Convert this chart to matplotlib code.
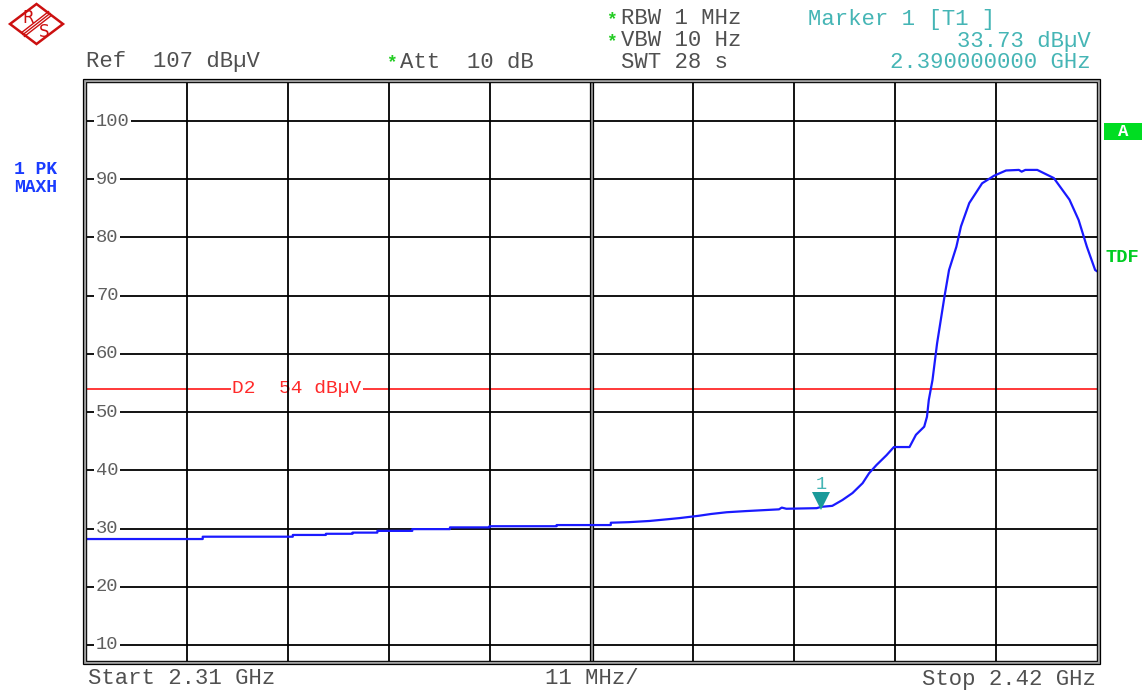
import matplotlib
matplotlib.use("Agg")
import matplotlib.pyplot as plt
import matplotlib.transforms as mtrans
from matplotlib.patches import Polygon, Rectangle
from matplotlib.lines import Line2D

# ---------------- data ----------------
freq_mhz = [2310.0, 2322.7, 2322.7, 2332.5, 2332.5, 2336.1, 2336.1, 2339.0, 2339.0,
            2341.7, 2341.7, 2345.5, 2345.5, 2349.6, 2349.6, 2353.9, 2353.9, 2361.2,
            2361.2, 2367.1, 2367.1, 2369.1, 2371.3, 2373.3, 2374.6, 2376.7, 2378.0,
            2379.7, 2381.8, 2385.4, 2385.7, 2386.2, 2389.5, 2390.0, 2391.2, 2392.3,
            2393.4, 2394.5, 2395.2, 2396.0, 2397.1, 2397.9, 2399.6, 2400.3, 2401.2,
            2401.5, 2401.7, 2402.1, 2402.6, 2403.4, 2403.9, 2404.7, 2405.2, 2406.1,
            2407.5, 2408.8, 2410.1, 2411.5, 2411.8, 2412.2, 2413.5, 2415.3, 2417.0,
            2418.0, 2418.9, 2419.8, 2420.0]
level_dbuv = [28.2, 28.2, 28.6, 28.6, 28.9, 28.9, 29.1, 29.1, 29.3, 29.3, 29.6, 29.6,
              29.9, 29.9, 30.2, 30.2, 30.4, 30.4, 30.6, 30.6, 31.0, 31.1, 31.3, 31.6,
              31.8, 32.2, 32.5, 32.8, 33.0, 33.3, 33.6, 33.4, 33.5, 33.73, 33.9, 34.9,
              36.1, 37.8, 39.5, 40.9, 42.6, 44.0, 44.0, 46.1, 47.5, 49.2, 52.1, 55.5,
              61.8, 69.8, 74.4, 78.4, 81.9, 85.9, 89.3, 90.6, 91.5, 91.6, 91.3, 91.6,
              91.6, 90.2, 86.5, 83.0, 78.4, 74.4, 74.2]

start_mhz = 2310.0
stop_mhz = 2420.0
div_mhz = 11.0
y_top = 106.7
y_bottom = 7.25
ytick_values = [100, 90, 80, 70, 60, 50, 40, 30, 20, 10]
ytick_labels = ["100", "90", "80", "70", "60", "50", "40", "30", "20", "10"]
limit_level = 54
limit_label = "D2  54 dB\u00b5V"
marker_freq = 2390.0
marker_level = 33.73

W, H = 1143, 690
MONO = "Liberation Mono"
GRAY = "#505050"
CYAN = "#45b5b5"
GREEN = "#22cc22"
BLUE = "#1a1aff"
RED = "#ff2a2a"
LOGO = "#cc1010"

fig = plt.figure(figsize=(W / 100, H / 100), dpi=100)
fig.patch.set_facecolor("white")

L, R, T, B = 86, 1097, 82, 661
ax = fig.add_axes([L / W, 1 - B / H, (R - L) / W, (B - T) / H])
ax.set_xlim(start_mhz, stop_mhz)
ax.set_ylim(y_bottom, y_top)
ax.set_xticks([])
ax.set_yticks([])
for s in ax.spines.values():
    s.set_linewidth(1.0)
    s.set_color("black")
    s.set_zorder(6)

# horizontal grid lines (broken by labels via white bbox)
for v in ytick_values:
    ax.axhline(v, color="black", lw=1.3, zorder=1)
x_lab = start_mhz + (96 - L) / (R - L) * (stop_mhz - start_mhz)
for v, t in zip(ytick_values, ytick_labels):
    ax.text(x_lab, v, t, fontsize=13.5, family=MONO, color="#5f5f5f",
            ha="left", va="center", zorder=2,
            bbox=dict(facecolor="white", edgecolor="none", pad=1.2))

# vertical grid lines (centre line drawn double)
k = 1
f = start_mhz + div_mhz
while f < stop_mhz - 1e-6:
    if k == 5:
        ax.axvline(f, color="#999999", lw=2.2, zorder=3)
        for dx in (-1.6, 1.6):
            tr = mtrans.offset_copy(ax.transData, fig=fig, x=dx, y=0, units="dots")
            ax.plot([f, f], [y_bottom, y_top], color="black", lw=0.9, transform=tr,
                    zorder=3)
    else:
        ax.axvline(f, color="black", lw=1.3, zorder=3)
    f += div_mhz
    k += 1

# display line D2
ax.axhline(limit_level, color=RED, lw=1.3, zorder=1.5)
x_d2 = start_mhz + (232 - L) / (R - L) * (stop_mhz - start_mhz)
ax.text(x_d2, limit_level, limit_label, fontsize=14, family=MONO, color=RED,
        ha="left", va="center", zorder=2,
        bbox=dict(facecolor="white", edgecolor="none", pad=1.0))

# trace
ax.plot(freq_mhz, level_dbuv, color=BLUE, lw=1.6, zorder=5, solid_joinstyle="round")

# marker
mk_tr = mtrans.offset_copy(ax.transData, fig=fig, x=0, y=5.5, units="dots")
ax.plot([marker_freq], [marker_level], marker="v", markersize=12.5, color="#1a9a9a",
        markeredgewidth=0, transform=mk_tr, zorder=7, clip_on=False)
lbl_tr = mtrans.offset_copy(ax.transData, fig=fig, x=0, y=22, units="dots")
ax.text(marker_freq, marker_level, "1", transform=lbl_tr, fontsize=13.5, family=MONO,
        color=CYAN, ha="center", va="center", zorder=7)

# ---------------- overlay in pixel coordinates ----------------
ov = fig.add_axes([0, 0, 1, 1], facecolor="none")
ov.set_xlim(0, W)
ov.set_ylim(H, 0)
ov.axis("off")

# double frame: black outer, gray band
ov.add_patch(Rectangle((L - 1.5, T - 1.5), (R - L) + 3, (B - T) + 3, fill=False,
                       edgecolor="#a0a0a0", lw=1.6, zorder=1))
ov.add_patch(Rectangle((L - 3, T - 3), (R - L) + 6, (B - T) + 6, fill=False,
                       edgecolor="black", lw=0.9, zorder=1))

def txt(x, y, s, color=GRAY, size=16, ha="left", weight="normal", family=MONO):
    ov.text(x, y, s, fontsize=size, family=family, color=color, ha=ha, va="center",
            fontweight=weight)

# header
txt(86, 62, "Ref  107 dB\u00b5V")
txt(392, 63, "*", color=GREEN, size=13, ha="center", weight="bold")
txt(400, 62, "Att  10 dB")
txt(612, 20, "*", color=GREEN, size=13, ha="center", weight="bold")
txt(621, 19, "RBW 1 MHz")
txt(612, 42, "*", color=GREEN, size=13, ha="center", weight="bold")
txt(621, 41, "VBW 10 Hz")
txt(621, 62, "SWT 28 s")
txt(808, 19, "Marker 1 [T1 ]", color=CYAN)
txt(1091, 41, "33.73 dB\u00b5V", color=CYAN, ha="right")
txt(1091, 62, "2.390000000 GHz", color=CYAN, ha="right")

# footer
txt(88, 679, "Start 2.31 GHz")
txt(545, 679, "11 MHz/")
txt(1096, 679, "Stop 2.42 GHz", ha="right")

# left trace info
txt(14, 169, "1 PK", color="#1a3cff", size=13, weight="bold")
txt(14, 187, "MAXH", color="#1a3cff", size=13, weight="bold")

# right side indicators
ov.add_patch(Rectangle((1104, 123), 38, 17, facecolor="#00dd22", edgecolor="none"))
txt(1123, 131.5, "A", color="white", size=12.5, ha="center", weight="bold")
txt(1105, 257, "TDF", color="#00cc22", size=13.5, weight="bold")

# R&S logo
ov.add_patch(Polygon([(10, 24), (36.5, 4), (63, 24), (36.5, 44)], closed=True,
                     facecolor="white", edgecolor=LOGO, lw=1.8))
for d in (-2.4, 0, 2.4):
    ov.add_line(Line2D([50 + d * 0.6, 23 + d * 0.6], [13.5 + d * 0.8, 34.5 + d * 0.8],
                       color=LOGO, lw=1.0))
ov.text(28.5, 18, "R", fontsize=12, family="DejaVu Sans", color=LOGO,
        ha="center", va="center")
ov.text(44, 32, "S", fontsize=12, family="DejaVu Sans", color=LOGO,
        ha="center", va="center")

fig.savefig("out.png", dpi=100, facecolor="white")
